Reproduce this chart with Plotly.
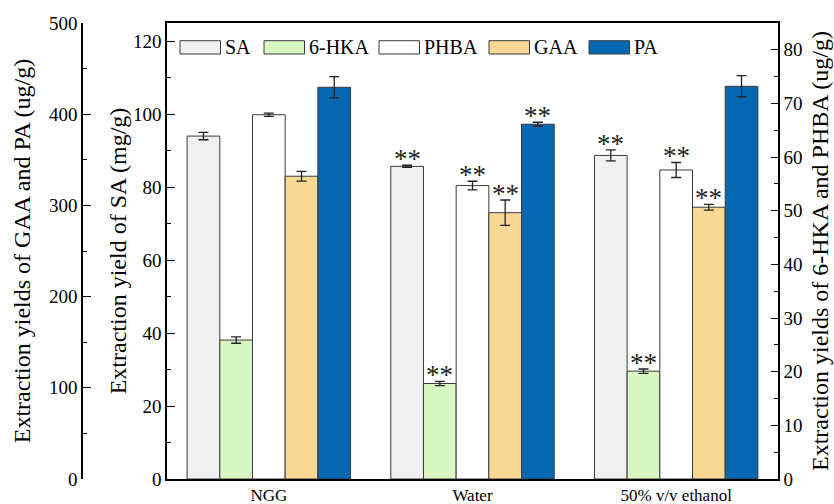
import plotly.graph_objects as go

categories = ["NGG", "Water", "50% v/v ethanol"]
series_names = ["SA", "6-HKA", "PHBA", "GAA", "PA"]

sa = [94.0, 85.7, 88.7]
sa_err = [1.0, 0.3, 1.5]
hka = [25.9, 17.8, 20.1]
hka_err = [0.6, 0.4, 0.4]
phba = [67.9, 54.7, 57.6]
phba_err = [0.3, 0.8, 1.4]
gaa = [332, 292, 298]
gaa_err = [5.3, 13.9, 3.1]
pa = [429.5, 389, 430.6]
pa_err = [11.7, 2.2, 11.7]

sig_sa = ["", "**", "**"]
sig_hka = ["", "**", "**"]
sig_phba = ["", "**", "**"]
sig_gaa = ["", "**", "**"]
sig_pa = ["", "**", ""]

values = [sa, hka, phba, gaa, pa]
errors = [sa_err, hka_err, phba_err, gaa_err, pa_err]
sigs = [sig_sa, sig_hka, sig_phba, sig_gaa, sig_pa]
axes = ["y", "y2", "y2", "y3", "y3"]
colors = ["#f0f0f0", "#d9f7c2", "#ffffff", "#f9d896", "#0668b0"]

FONT = "Times New Roman, Liberation Serif, serif"
bar_w = 0.1605
start = -bar_w * 5 / 2

fig = go.Figure()
for i in range(5):
    fig.add_trace(go.Bar(
        x=categories, y=values[i], name=series_names[i], yaxis=axes[i],
        width=bar_w, offset=start + i * bar_w,
        marker=dict(color=colors[i], line=dict(color="#3a3a3a", width=1)),
        error_y=dict(type="data", array=errors[i], color="#222222", thickness=1.3, width=5),
        showlegend=False,
    ))

annotations = []
for i in range(5):
    for j, c in enumerate(categories):
        if sigs[i][j]:
            annotations.append(dict(
                x=j + start + (i + 0.5) * bar_w, y=values[i][j] + errors[i][j],
                xref="x", yref=axes[i], text=sigs[i][j], showarrow=False,
                xanchor="center", yanchor="bottom", yshift=-11,
                font=dict(family=FONT, size=27, color="#222222"),
            ))

# custom legend
W, H = 696.0, 456.0
L0, B0 = 82.0, 479.0
def px(x):
    return (x - L0) / W
def py(y):
    return (B0 - y) / H
leg_x = [180, 264, 379, 489, 589]
shapes = []
for i in range(5):
    shapes.append(dict(type="rect", xref="paper", yref="paper",
                       x0=px(leg_x[i]), x1=px(leg_x[i] + 40.5), y0=py(54), y1=py(40.7),
                       fillcolor=colors[i], line=dict(color="#3a3a3a", width=1)))
    annotations.append(dict(x=px(leg_x[i] + 43), y=py(47.5), xref="paper", yref="paper",
                            text=series_names[i], showarrow=False, xanchor="left", yanchor="middle",
                            font=dict(family=FONT, size=20, color="#000000")))

tickfont = dict(family=FONT, size=19, color="#000000")
titlefont = dict(family=FONT, size=24, color="#000000")

fig.update_layout(
    width=834, height=504,
    margin=dict(l=82, r=56, t=23, b=25, autoexpand=False),
    paper_bgcolor="white", plot_bgcolor="white",
    barmode="overlay",
    font=dict(family=FONT, color="#000000"),
    shapes=shapes, annotations=annotations,
    xaxis=dict(
        domain=[(167 - 82) / 696.0, 1], type="category", range=[-0.5, 2.5],
        showline=True, linecolor="#000000", linewidth=2, mirror=True,
        ticks="", showgrid=False, tickfont=dict(family=FONT, size=17, color="#000000"),
        zeroline=False, automargin=False, ticklabelstandoff=0,
    ),
    yaxis=dict(
        range=[0, 125], tickvals=[0, 20, 40, 60, 80, 100, 120],
        showline=True, linecolor="#000000", linewidth=1.5, mirror=True,
        ticks="inside", ticklen=8, tickwidth=1.3, tickcolor="#000000",
        minor=dict(ticks="inside", ticklen=4, tickwidth=1.2, dtick=10, tickcolor="#000000", showgrid=False),
        showgrid=False, zeroline=False, tickfont=tickfont, automargin=False,
        title=dict(text="Extraction yield of SA (mg/g)", font=titlefont, standoff=0),
    ),
    yaxis2=dict(
        range=[0, 85], tickvals=[0, 10, 20, 30, 40, 50, 60, 70, 80],
        overlaying="y", side="right", anchor="x",
        showline=True, linecolor="#000000", linewidth=1.5,
        ticks="inside", ticklen=7, tickwidth=1.3, tickcolor="#000000",
        minor=dict(ticks="inside", ticklen=4, tickwidth=1.2, dtick=5, tickcolor="#000000", showgrid=False),
        showgrid=False, zeroline=False, tickfont=tickfont, automargin=False,
        title=dict(text="Extraction yields of 6-HKA and PHBA (ug/g)", font=titlefont, standoff=10),
    ),
    yaxis3=dict(
        range=[0, 500], tickvals=[0, 100, 200, 300, 400, 500],
        overlaying="y", side="left", anchor="free", position=0,
        showline=True, linecolor="#000000", linewidth=1.5,
        ticks="inside", ticklen=8, tickwidth=1.3, tickcolor="#000000",
        minor=dict(ticks="inside", ticklen=4, tickwidth=1.2, dtick=50, tickcolor="#000000", showgrid=False),
        showgrid=False, zeroline=False, tickfont=tickfont, automargin=False,
        title=dict(text="Extraction yields of GAA and PA (ug/g)", font=titlefont, standoff=11),
    ),
)

fig.write_html("out.html", config={"displayModeBar": False},
               post_script="document.body.style.margin='0px';document.body.style.overflow='hidden';")
